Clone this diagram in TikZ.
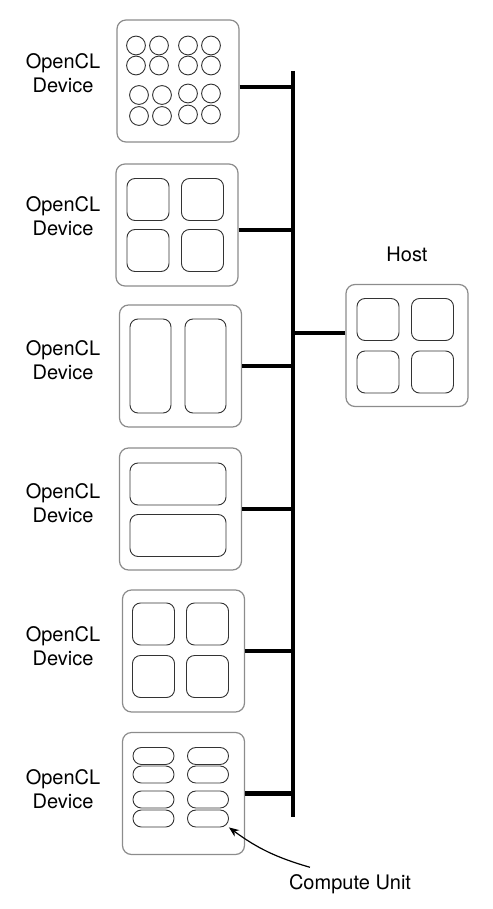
\documentclass[tikz,border=0pt]{standalone}
\usepackage{fontspec}
\setmainfont{TeX Gyre Heros}
\usetikzlibrary{arrows.meta,positioning,calc}

\begin{document}
\begin{tikzpicture}[
  x=0.5pt, y=-0.5pt,
  font=\fontsize{10}{12}\selectfont,
  device/.style={draw=black!45, line width=0.6pt, rounded corners=4.5pt, minimum width=61pt, minimum height=61pt, inner sep=0pt},
  unit/.style={draw=black!80, line width=0.45pt, rounded corners=4pt, inner sep=0pt},
  sq/.style={unit, minimum width=21pt, minimum height=21pt},
  tall/.style={unit, minimum width=20.5pt, minimum height=47pt},
  wide/.style={unit, minimum width=48pt, minimum height=21pt},
  pill/.style={unit, rounded corners=4.2pt, minimum width=20.5pt, minimum height=8.5pt},
  core/.style={draw=black!80, line width=0.45pt, circle, minimum size=9.4pt, inner sep=0pt},
  lbl/.style={align=center},
  link/.style={line width=2.3pt},
  pointer/.style={-{Stealth[length=5pt,width=4pt]}, line width=0.6pt}
]
\useasboundingbox (0,0) rectangle (492,909);

% devices and host
\node[device] (dev1) at (178,81) {};
\node[device] (dev2) at (177,225) {};
\node[device] (dev3) at (180.5,366) {};
\node[device] (dev4) at (180.5,509) {};
\node[device] (dev5) at (183.5,651) {};
\node[device] (dev6) at (183.5,793.5) {};
\node[device] (host) at (407,345.5) {};

\node[lbl] (lbl1) at (63,73) {OpenCL\\Device};
\node[lbl] (lbl2) at (63,216) {OpenCL\\Device};
\node[lbl] (lbl3) at (63,360) {OpenCL\\Device};
\node[lbl] (lbl4) at (63,503) {OpenCL\\Device};
\node[lbl] (lbl5) at (63,646) {OpenCL\\Device};
\node[lbl] (lbl6) at (63,789) {OpenCL\\Device};
\node (hostlbl) [above=7.5pt of host] {Host};

% compute units
\foreach \x [count=\i] in {136,159,188,211}
  \foreach \y [count=\j] in {45.5,65.5}
    \node[core] (c-\i-\j) at (\x,\y) {};
\foreach \x [count=\i] in {139,162}
  \foreach \y [count=\j] in {95,116}
    \node[core] (cl-\i-\j) at (\x,\y) {};
\foreach \x [count=\i] in {188,211}
  \foreach \y [count=\j] in {93.5,114.5}
    \node[core] (cr-\i-\j) at (\x,\y) {};
\foreach \x [count=\i] in {148,202.5}
  \foreach \y [count=\j] in {199.5,250.5}
    \node[sq] (q-\i-\j) at (\x,\y) {};
\node[tall] (t-1) at (150.5,366) {};
\node[tall] (t-2) at (205.5,366) {};
\node[wide] (w-1) at (178,484) {};
\node[wide] (w-2) at (178,535.5) {};
\foreach \x [count=\i] in {153.5,207.5}
  \foreach \y [count=\j] in {624,676.5}
    \node[sq] (s-\i-\j) at (\x,\y) {};
\foreach \x [count=\i] in {378,432.5}
  \foreach \y [count=\j] in {319.5,372}
    \node[sq] (h-\i-\j) at (\x,\y) {};
\foreach \x [count=\i] in {153.5,208}
  \foreach \y [count=\j] in {756,774.5,799.5,818.5}
    \node[pill] (p-\i-\j) at (\x,\y) {};

% bus
\coordinate (bustop) at (293,71);
\coordinate (busbot) at (293,817);
\draw[link] (bustop) -- (busbot);
\draw[link] ([yshift=-3pt]dev1.east) -- ([yshift=-3pt]dev1.east -| bustop);
\draw[link] ([yshift=-2.5pt]dev2.east) -- ([yshift=-2.5pt]dev2.east -| bustop);
\draw[link] (dev3.east) -- (dev3.east -| bustop);
\draw[link] (dev4.east) -- (dev4.east -| bustop);
\draw[link] (dev5.east) -- (dev5.east -| bustop);
\draw[link] (dev6.east) -- (dev6.east -| bustop);
\draw[link] ([yshift=6.25pt]host.west) -- ([yshift=6.25pt]host.west -| bustop);

\node (culbl) at (350,884) {Compute Unit};
\draw[pointer] ([xshift=14pt]culbl.north west) to[bend left=10] (p-2-4.south east);
\end{tikzpicture}
\end{document}
